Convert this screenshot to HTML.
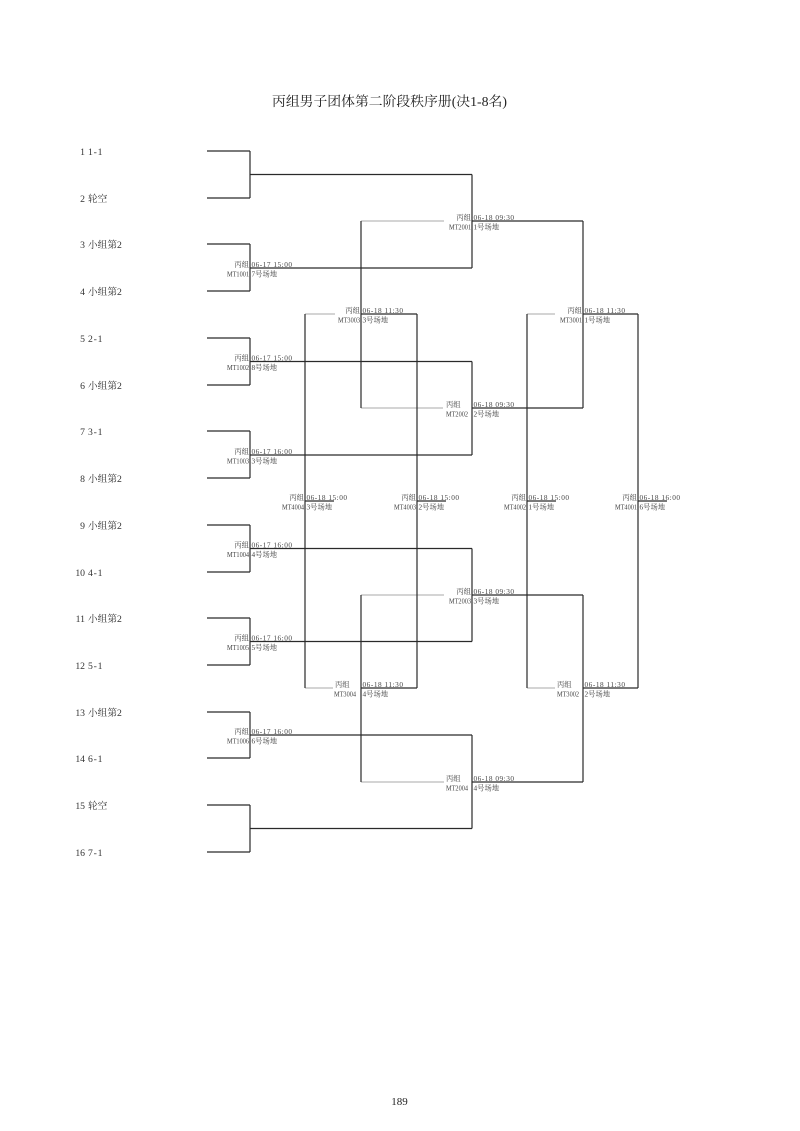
<!DOCTYPE html>
<html>
<head>
<meta charset="utf-8">
<style>
  html, body { margin:0; padding:0; background:#fff; }
  body { width:800px; height:1131px; overflow:hidden; }
  svg { display:block; }
  .t { font-family:"Liberation Serif","Noto Serif CJK SC",serif; fill:#222; }
  .e { font-family:"Liberation Serif","Noto Serif CJK SC",serif; font-size:9.7px; fill:#333; }
  .s { font-family:"Liberation Serif","Noto Serif CJK SC",serif; font-size:7.3px; fill:#444; }
</style>
</head>
<body>
<svg width="800" height="1131" viewBox="0 0 800 1131" xmlns="http://www.w3.org/2000/svg">
  <!-- Title -->
  <text class="t" x="272" y="106" font-size="13.4" textLength="235" lengthAdjust="spacingAndGlyphs">丙组男子团体第二阶段秩序册(决1-8名)</text>

  <!-- Entry labels -->
  <g class="e">
    <text x="85" y="155" text-anchor="end">1</text><text x="88" y="155" textLength="14.5">1-1</text>
    <text x="85" y="202" text-anchor="end">2</text><text x="88" y="202">轮空</text>
    <text x="85" y="248" text-anchor="end">3</text><text x="88" y="248">小组第2</text>
    <text x="85" y="295" text-anchor="end">4</text><text x="88" y="295">小组第2</text>
    <text x="85" y="342" text-anchor="end">5</text><text x="88" y="342" textLength="14.5">2-1</text>
    <text x="85" y="389" text-anchor="end">6</text><text x="88" y="389">小组第2</text>
    <text x="85" y="435" text-anchor="end">7</text><text x="88" y="435" textLength="14.5">3-1</text>
    <text x="85" y="482" text-anchor="end">8</text><text x="88" y="482">小组第2</text>
    <text x="85" y="529" text-anchor="end">9</text><text x="88" y="529">小组第2</text>
    <text x="85" y="576" text-anchor="end">10</text><text x="88" y="576" textLength="14.5">4-1</text>
    <text x="85" y="622" text-anchor="end">11</text><text x="88" y="622">小组第2</text>
    <text x="85" y="669" text-anchor="end">12</text><text x="88" y="669" textLength="14.5">5-1</text>
    <text x="85" y="716" text-anchor="end">13</text><text x="88" y="716">小组第2</text>
    <text x="85" y="762" text-anchor="end">14</text><text x="88" y="762" textLength="14.5">6-1</text>
    <text x="85" y="809" text-anchor="end">15</text><text x="88" y="809">轮空</text>
    <text x="85" y="856" text-anchor="end">16</text><text x="88" y="856" textLength="14.5">7-1</text>
  </g>

  <!-- Gray loser lines -->
  <path fill="none" stroke="#aaa" stroke-width="1.1" d="
    M361 221 H444 M361 408 H443 M361 595 H444 M361 782 H444
    M527 314 H555 M527 688 H555 M305 314 H335 M305 688 H333" />

  <!-- Black bracket lines -->
  <path fill="none" stroke="#2a2a2a" stroke-width="1.2" d="
    M207 151 H250 M207 198 H250 M207 244 H250 M207 291 H250
    M207 338 H250 M207 385 H250 M207 431 H250 M207 478 H250
    M207 525 H250 M207 572 H250 M207 618 H250 M207 665 H250
    M207 712 H250 M207 758 H250 M207 805 H250 M207 852 H250
    M250 151 V198 M250 244 V291 M250 338 V385 M250 431 V478
    M250 525 V572 M250 618 V665 M250 712 V758 M250 805 V852
    M250 174.5 H472 M250 268 H472 M250 361.5 H472 M250 455 H472
    M250 548.5 H472 M250 641.5 H472 M250 735 H472 M250 828.5 H472
    M472 174.5 V268 M472 361.5 V455 M472 548.5 V641.5 M472 735 V828.5
    M472 221 H583 M472 408 H583 M472 595 H583 M472 782 H583
    M583 221 V408 M583 595 V782
    M361 221 V408 M361 595 V782
    M583 314 H638 M583 688 H638 M361 314 H417 M361 688 H417
    M638 314 V688 M527 314 V688 M417 314 V688 M305 314 V688
    M305 501 H334 M417 501 H446 M527 501 H556 M638 501 H667" />

  <!-- Match labels -->
  <g class="s">
    <!-- Round 1 -->
    <text x="234.4" y="267">丙组</text><text x="227" y="276.5" textLength="22" lengthAdjust="spacingAndGlyphs">MT1001</text>
    <text x="251.5" y="267" textLength="40.5">06-17 15:00</text><text x="251.5" y="276.5">7号场地</text>

    <text x="234.4" y="360.5">丙组</text><text x="227" y="370" textLength="22" lengthAdjust="spacingAndGlyphs">MT1002</text>
    <text x="251.5" y="360.5" textLength="40.5">06-17 15:00</text><text x="251.5" y="370">8号场地</text>

    <text x="234.4" y="454">丙组</text><text x="227" y="463.5" textLength="22" lengthAdjust="spacingAndGlyphs">MT1003</text>
    <text x="251.5" y="454" textLength="40.5">06-17 16:00</text><text x="251.5" y="463.5">3号场地</text>

    <text x="234.4" y="547.5">丙组</text><text x="227" y="557" textLength="22" lengthAdjust="spacingAndGlyphs">MT1004</text>
    <text x="251.5" y="547.5" textLength="40.5">06-17 16:00</text><text x="251.5" y="557">4号场地</text>

    <text x="234.4" y="640.5">丙组</text><text x="227" y="650" textLength="22" lengthAdjust="spacingAndGlyphs">MT1005</text>
    <text x="251.5" y="640.5" textLength="40.5">06-17 16:00</text><text x="251.5" y="650">5号场地</text>

    <text x="234.4" y="734">丙组</text><text x="227" y="743.5" textLength="22" lengthAdjust="spacingAndGlyphs">MT1006</text>
    <text x="251.5" y="734" textLength="40.5">06-17 16:00</text><text x="251.5" y="743.5">6号场地</text>

    <!-- Round 2 -->
    <text x="456.4" y="220">丙组</text><text x="449" y="229.5" textLength="22" lengthAdjust="spacingAndGlyphs">MT2001</text>
    <text x="473.5" y="220" textLength="40.5">06-18 09:30</text><text x="473.5" y="229.5">1号场地</text>

    <text x="446" y="407">丙组</text><text x="446" y="416.5" textLength="22" lengthAdjust="spacingAndGlyphs">MT2002</text>
    <text x="473.5" y="407" textLength="40.5">06-18 09:30</text><text x="473.5" y="416.5">2号场地</text>

    <text x="456.4" y="594">丙组</text><text x="449" y="603.5" textLength="22" lengthAdjust="spacingAndGlyphs">MT2003</text>
    <text x="473.5" y="594" textLength="40.5">06-18 09:30</text><text x="473.5" y="603.5">3号场地</text>

    <text x="446" y="781">丙组</text><text x="446" y="790.5" textLength="22" lengthAdjust="spacingAndGlyphs">MT2004</text>
    <text x="473.5" y="781" textLength="40.5">06-18 09:30</text><text x="473.5" y="790.5">4号场地</text>

    <!-- Round 3 -->
    <text x="345.4" y="313">丙组</text><text x="338" y="322.5" textLength="22" lengthAdjust="spacingAndGlyphs">MT3003</text>
    <text x="362.5" y="313" textLength="40.5">06-18 11:30</text><text x="362.5" y="322.5">3号场地</text>

    <text x="567.4" y="313">丙组</text><text x="560" y="322.5" textLength="22" lengthAdjust="spacingAndGlyphs">MT3001</text>
    <text x="584.5" y="313" textLength="40.5">06-18 11:30</text><text x="584.5" y="322.5">1号场地</text>

    <text x="335" y="687">丙组</text><text x="334" y="696.5" textLength="22" lengthAdjust="spacingAndGlyphs">MT3004</text>
    <text x="362.5" y="687" textLength="40.5">06-18 11:30</text><text x="362.5" y="696.5">4号场地</text>

    <text x="557" y="687">丙组</text><text x="557" y="696.5" textLength="22" lengthAdjust="spacingAndGlyphs">MT3002</text>
    <text x="584.5" y="687" textLength="40.5">06-18 11:30</text><text x="584.5" y="696.5">2号场地</text>

    <!-- Round 4 -->
    <text x="289.4" y="500">丙组</text><text x="282" y="509.5" textLength="22" lengthAdjust="spacingAndGlyphs">MT4004</text>
    <text x="306.5" y="500" textLength="40.5">06-18 15:00</text><text x="306.5" y="509.5">3号场地</text>

    <text x="401.4" y="500">丙组</text><text x="394" y="509.5" textLength="22" lengthAdjust="spacingAndGlyphs">MT4003</text>
    <text x="418.5" y="500" textLength="40.5">06-18 15:00</text><text x="418.5" y="509.5">2号场地</text>

    <text x="511.4" y="500">丙组</text><text x="504" y="509.5" textLength="22" lengthAdjust="spacingAndGlyphs">MT4002</text>
    <text x="528.5" y="500" textLength="40.5">06-18 15:00</text><text x="528.5" y="509.5">1号场地</text>

    <text x="622.4" y="500">丙组</text><text x="615" y="509.5" textLength="22" lengthAdjust="spacingAndGlyphs">MT4001</text>
    <text x="639.5" y="500" textLength="40.5">06-18 16:00</text><text x="639.5" y="509.5">6号场地</text>
  </g>

  <!-- Page number -->
  <text class="t" x="399.5" y="1105" font-size="11" text-anchor="middle">189</text>
</svg>
</body>
</html>
